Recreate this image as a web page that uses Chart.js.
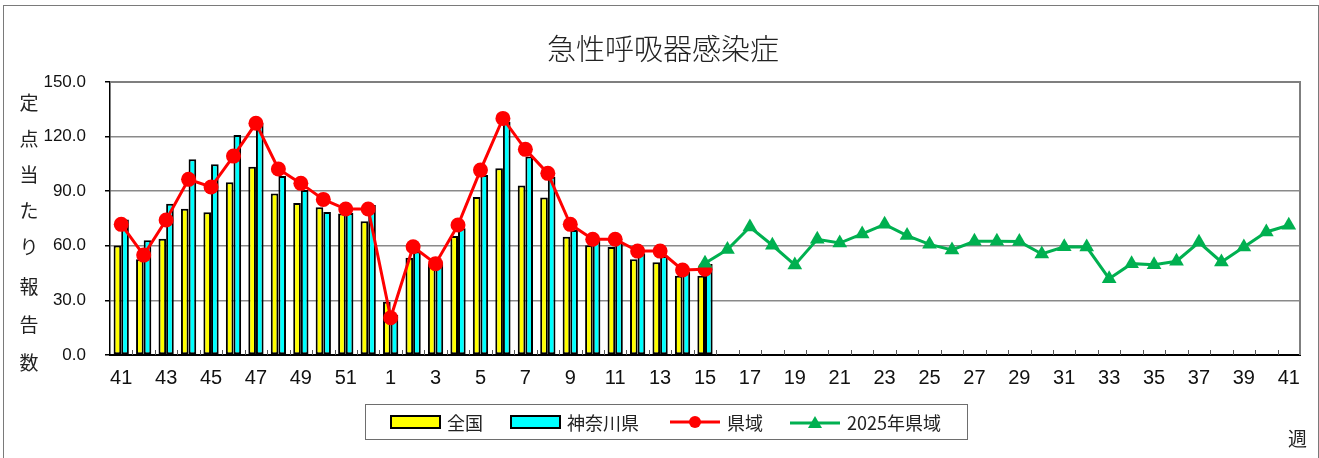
<!DOCTYPE html>
<html><head><meta charset="utf-8">
<script src="https://cdn.jsdelivr.net/npm/chart.js@4/dist/chart.umd.min.js"></script>
<style>
html,body{margin:0;padding:0;background:#fff;}
#wrap{position:relative;width:1319px;height:458px;overflow:hidden;font-family:"Noto Sans CJK JP","Noto Sans",sans-serif;color:#222;}
#frame{position:absolute;left:3px;top:5px;width:1316px;height:480px;border:1px solid #7a7a7a;box-sizing:border-box;}
canvas{position:absolute;left:0;top:0;}
#title{position:absolute;left:0;width:1326px;top:27px;text-align:center;font-size:29px;line-height:40px;font-weight:300;}
.yt{position:absolute;left:18px;width:22px;text-align:center;font-size:19px;line-height:22px;}
#week{position:absolute;left:1288px;top:426px;font-size:19px;line-height:24px;}
#legend{position:absolute;left:365px;top:404px;width:603px;height:36px;border:1px solid #6e6e6e;box-sizing:border-box;}
.li{position:absolute;top:0;height:34px;display:flex;align-items:center;font-size:18px;}
.li svg{margin-right:5px;}
</style></head>
<body>
<div id="wrap">
  <div id="frame"></div>
  <canvas id="c" width="1319" height="458"></canvas>
  <div id="title">急性呼吸器感染症</div>
  <div id="ytitle"></div>
  <div id="week">週</div>
  <div id="legend">
    <div class="li" style="left:24px"><svg width="52" height="16"><rect x="1" y="2" width="49" height="12" fill="#ffff00" stroke="#000" stroke-width="2"/></svg>全国</div>
    <div class="li" style="left:144px"><svg width="52" height="16"><rect x="1" y="2" width="49" height="12" fill="#00ffff" stroke="#000" stroke-width="2"/></svg>神奈川県</div>
    <div class="li" style="left:304px"><svg width="52" height="16"><line x1="0" y1="8" x2="50" y2="8" stroke="#ff0000" stroke-width="3"/><circle cx="25" cy="8" r="6" fill="#ff0000"/></svg>県域</div>
    <div class="li" style="left:424px"><svg width="52" height="16"><line x1="0" y1="9" x2="50" y2="9" stroke="#00b050" stroke-width="3"/><polygon points="25,2 32,14 18,14" fill="#00b050"/></svg>2025年県域</div>
  </div>
</div>
<script>
// week labels (41..52 then 1..41)
const weeks = [41,42,43,44,45,46,47,48,49,50,51,52,1,2,3,4,5,6,7,8,9,10,11,12,13,14,15,16,17,18,19,20,21,22,23,24,25,26,27,28,29,30,31,32,33,34,35,36,37,38,39,40,41];
// 全国 (weeks 41..15)
const national = [60.1,52.6,63.9,80.4,78.4,94.9,103.5,88.8,83.5,81.2,77.8,73.5,29.3,53.5,50.0,65.4,86.8,102.6,93.2,86.6,65.0,60.3,59.3,52.6,50.9,43.6,43.6];
// 神奈川県 (weeks 41..15)
const kanagawa = [74.5,63.0,83.1,107.5,104.8,120.9,127.3,98.4,90.7,78.6,78.0,82.4,22.0,56.8,51.0,69.6,98.9,128.2,109.0,98.0,68.7,63.2,62.3,55.9,54.4,45.8,50.0];
// 県域 (weeks 41..15)
const prefArea = [71.8,54.9,74.2,96.5,92.3,109.3,127.3,102.2,94.3,85.5,80.2,80.2,20.5,59.5,50.2,71.4,101.6,130.0,113.0,99.8,71.8,63.6,63.6,57.1,57.1,46.7,47.1];
// 2025年県域 (weeks 15..41)
const area2025 = [50.4,58.0,70.3,60.3,49.5,63.6,61.5,66.5,71.8,65.6,60.8,57.7,62.5,62.5,62.3,55.5,59.5,59.3,41.9,50.2,49.6,51.5,61.9,51.1,59.3,67.6,71.3];
const yTicks = [0,30,60,90,120,150];
const yTitleChars = ['定','点','当','た','り','報','告','数'];

const yt = document.getElementById('ytitle');
const yPos = [91,127,163,199,235,275,313,351];
yTitleChars.forEach((ch,i)=>{const d=document.createElement('div');d.className='yt';d.style.top=yPos[i]+'px';d.textContent=ch;yt.appendChild(d);});

const N = weeks.length;
const pad = (arr, start) => { const a = new Array(N).fill(null); arr.forEach((v,i)=>{a[start+i]=v;}); return a; };
const g2025Start = N - area2025.length;

const framePlugin = {
  id:'framePlugin',
  beforeDatasetsDraw(chart){
    const {ctx, chartArea:a, scales:{x}} = chart;
    ctx.save();
    // inner tick marks at category boundaries
    ctx.strokeStyle = '#555'; ctx.lineWidth = 1;
    const w = (a.right - a.left) / N;
    for (let i=1;i<N;i++){
      const px = Math.round(a.left + i*w) + 0.5;
      ctx.beginPath(); ctx.moveTo(px, a.bottom); ctx.lineTo(px, a.bottom-5); ctx.stroke();
    }
    // plot area border (top & right)
    ctx.strokeStyle = '#7f7f7f'; ctx.lineWidth = 2;
    ctx.beginPath(); ctx.moveTo(a.left, a.top); ctx.lineTo(a.right, a.top); ctx.lineTo(a.right, a.bottom); ctx.stroke();
    ctx.restore();
  }
};

new Chart(document.getElementById('c'), {
  data: {
    labels: weeks.map(String),
    datasets: [
      {type:'bar', label:'全国', data: pad(national,0), backgroundColor:'#ffff00', borderColor:'#000', borderWidth:2, borderSkipped:false, order:3},
      {type:'bar', label:'神奈川県', data: pad(kanagawa,0), backgroundColor:'#00ffff', borderColor:'#000', borderWidth:2, borderSkipped:false, order:3},
      {type:'line', label:'県域', data: pad(prefArea,0), borderColor:'#ff0000', backgroundColor:'#ff0000', borderWidth:3, pointStyle:'circle', pointRadius:7.5, pointBorderWidth:0, pointBackgroundColor:'#ff0000', spanGaps:false, order:1},
      {type:'line', label:'2025年県域', data: pad(area2025,g2025Start), borderColor:'#00b050', backgroundColor:'#00b050', borderWidth:3, pointStyle:'triangle', pointRadius:8.5, pointBorderWidth:0, pointBackgroundColor:'#00b050', spanGaps:false, order:0}
    ]
  },
  options: {
    responsive:false, animation:false,
    layout:{padding:{top:82, right:19, left:0, bottom:0}},
    plugins:{legend:{display:false}, tooltip:{enabled:false}, title:{display:false}},
    datasets:{bar:{categoryPercentage:0.68, barPercentage:1.0}},
    scales:{
      x:{
        type:'category', offset:true,
        grid:{display:true, drawOnChartArea:false, drawTicks:false, color:'rgba(0,0,0,0)'},
        border:{display:true, color:'#000', width:2},
        ticks:{autoSkip:false, maxRotation:0, padding:11, color:'#111',
          font:{family:'"Liberation Sans Narrow","Liberation Sans",sans-serif', size:20},
          callback:(v,i)=> i%2===0 ? weeks[i] : ''},
        afterFit:(s)=>{s.height = 103;}
      },
      y:{
        min:0, max:150,
        afterBuildTicks:(s)=>{s.ticks = yTicks.map(v=>({value:v}));},
        grid:{color:(c)=> c.tick && c.tick.value===150 ? '#404040' : '#8a8a8a', lineWidth:1.5, drawTicks:true, tickLength:5, tickColor:'#000'},
        border:{display:true, color:'#000', width:1.5},
        ticks:{padding:19, color:'#111', font:{family:'"Liberation Sans",sans-serif', size:17}, callback:(v)=>Number(v).toFixed(1)},
        afterFit:(s)=>{s.width = 110;}
      }
    }
  },
  plugins:[framePlugin]
});
</script>
</body></html>
